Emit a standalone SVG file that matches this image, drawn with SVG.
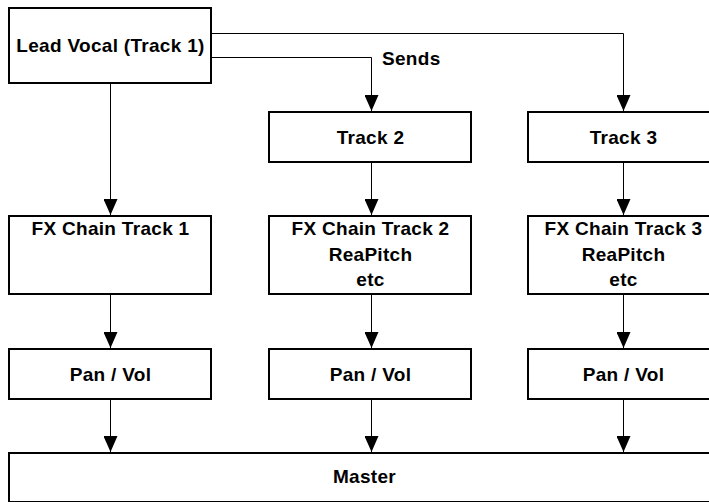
<svg xmlns="http://www.w3.org/2000/svg" width="709" height="502" viewBox="0 0 709 502">
<style>
.box{fill:#fff;stroke:#000;stroke-width:2}
.t{font-family:"Liberation Sans",Arial,sans-serif;font-weight:bold;font-size:19px;letter-spacing:0.3px;fill:#000;text-anchor:middle}
.c{fill:none;stroke:#000;stroke-width:1;marker-end:url(#ah)}
</style>
<defs>
<marker id="ah" markerUnits="userSpaceOnUse" markerWidth="16" markerHeight="14" refX="16" refY="7" orient="auto">
<path d="M0,0 L16,7 L0,14 z" fill="#000"/>
</marker>
</defs>
<rect width="709" height="502" fill="#fff"/>
<g id="connectors">
<path class="c" d="M212,33.5 H623.5 V111"/>
<path class="c" d="M212,57.5 H371.5 V111"/>
<path class="c" d="M110.5,84 V215"/>
<path class="c" d="M371.5,163 V215"/>
<path class="c" d="M623.5,163 V215"/>
<path class="c" d="M110.5,295 V348"/>
<path class="c" d="M371.5,295 V348"/>
<path class="c" d="M623.5,295 V348"/>
<path class="c" d="M110.5,400 V452"/>
<path class="c" d="M371.5,400 V452"/>
<path class="c" d="M623.5,400 V452"/>
<text class="t" x="382" y="65" style="text-anchor:start">Sends</text>
</g>
<g id="lead">
<rect class="box" x="9" y="8" width="202" height="75"/>
<text class="t" x="110.5" y="52">Lead Vocal (Track 1)</text>
</g>
<g id="track2">
<rect class="box" x="269" y="112" width="202" height="50"/>
<text class="t" x="370.5" y="143.5">Track 2</text>
</g>
<g id="track3">
<rect class="box" x="528" y="112" width="192" height="50"/>
<text class="t" x="623.5" y="143.5">Track 3</text>
</g>
<g id="fx1">
<rect class="box" x="9" y="216" width="202" height="78"/>
<text class="t" x="110.5" y="235">FX Chain Track 1</text>
</g>
<g id="fx2">
<rect class="box" x="269" y="216" width="202" height="78"/>
<text class="t" x="370.5" y="235">FX Chain Track 2</text>
<text class="t" x="370.5" y="260.5">ReaPitch</text>
<text class="t" x="370.5" y="286">etc</text>
</g>
<g id="fx3">
<rect class="box" x="528" y="216" width="192" height="78"/>
<text class="t" x="623.5" y="235">FX Chain Track 3</text>
<text class="t" x="623.5" y="260.5">ReaPitch</text>
<text class="t" x="623.5" y="286">etc</text>
</g>
<g id="pan1">
<rect class="box" x="9" y="349" width="202" height="50"/>
<text class="t" x="110.5" y="380.5">Pan / Vol</text>
</g>
<g id="pan2">
<rect class="box" x="269" y="349" width="202" height="50"/>
<text class="t" x="370.5" y="380.5">Pan / Vol</text>
</g>
<g id="pan3">
<rect class="box" x="528" y="349" width="192" height="50"/>
<text class="t" x="623.5" y="380.5">Pan / Vol</text>
</g>
<g id="master">
<rect class="box" x="9" y="453" width="710" height="49"/>
<text class="t" x="364.5" y="483">Master</text>
</g>
</svg>
